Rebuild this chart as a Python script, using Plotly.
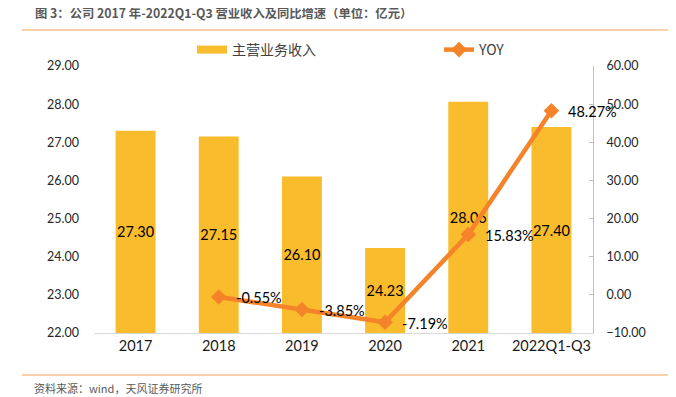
import plotly.graph_objects as go

categories = ["2017", "2018", "2019", "2020", "2021", "2022Q1-Q3"]
revenue = [27.30, 27.15, 26.10, 24.23, 28.06, 27.40]
yoy_categories = ["2018", "2019", "2020", "2021", "2022Q1-Q3"]
yoy = [-0.55, -3.85, -7.19, 15.83, 48.27]
left_ticks = [22, 23, 24, 25, 26, 27, 28, 29]
right_ticks = [-10, 0, 10, 20, 30, 40, 50, 60]

BASE = 22
BAR_COLOR = "#F9BC2C"
LINE_COLOR = "#F4832A"
FONT = "Lato, 'Noto Sans CJK SC', sans-serif"
CJK = "'Noto Sans CJK SC', sans-serif"

# plot area in page pixels (page has an 8px body margin)
PL, PR, PT, PB = 94, 593, 66, 333
PW, PH = PR - PL, PB - PT


def px(xp):
    return (xp - PL) / PW


def py(yp):
    return (PB - yp) / PH


fig = go.Figure()

fig.add_trace(go.Bar(
    x=categories,
    y=[v - BASE for v in revenue],
    base=BASE,
    width=0.48,
    marker=dict(color=BAR_COLOR, line=dict(width=0)),
    text=[f"{v:.2f}" for v in revenue],
    textposition="inside",
    insidetextanchor="middle",
    constraintext="none",
    textangle=0,
    textfont=dict(family=FONT, size=14.5, color="#000000"),
    showlegend=False,
    name="主营业务收入",
    hoverinfo="skip",
))

# legend swatch for the bars (wide flat rectangle)
fig.add_trace(go.Scatter(
    x=[categories[0]], y=[None], mode="lines",
    line=dict(color=BAR_COLOR, width=8),
    name="主营业务收入", hoverinfo="skip", legend="legend",
))

fig.add_trace(go.Scatter(
    x=yoy_categories,
    y=yoy,
    yaxis="y2",
    mode="lines+markers",
    line=dict(color=LINE_COLOR, width=4.5),
    marker=dict(symbol="diamond", size=12, color=LINE_COLOR),
    name="YOY", legend="legend2",
))

for c, v in zip(yoy_categories, yoy):
    fig.add_annotation(
        x=categories.index(c), y=v, xref="x", yref="y2",
        text=f"{v:.2f}%", showarrow=False,
        xanchor="left", yanchor="middle", xshift=15, yshift=-1,
        font=dict(family=FONT, size=14.5, color="#000000"),
    )

fig.add_annotation(
    x=px(33), y=py(13), xref="paper", yref="paper",
    text="<b>图 3：公司 2017 年-2022Q1-Q3 营业收入及同比增速（单位：亿元）</b>",
    showarrow=False, xanchor="left", yanchor="middle",
    font=dict(family=CJK, size=12.3, color="#595959"),
)
fig.add_annotation(
    x=px(32), y=py(388), xref="paper", yref="paper",
    text="资料来源：wind，天风证券研究所", showarrow=False, xanchor="left", yanchor="middle",
    font=dict(family=CJK, size=11, color="#595959"),
)

for yline in (30, 375):
    fig.add_shape(type="line", xref="paper", yref="paper",
                  x0=px(22), x1=px(684), y0=py(yline), y1=py(yline),
                  line=dict(color="#F8C08E", width=1.5))

legend_common = dict(
    orientation="h", xanchor="left", yanchor="middle",
    font=dict(family=CJK, size=14, color="#404040"),
    bgcolor="rgba(0,0,0,0)",
)

fig.update_layout(
    width=668, height=389,
    margin=dict(l=PL - 8, r=668 - (PR - 8), t=PT - 8, b=389 - (PB - 8)),
    paper_bgcolor="white", plot_bgcolor="white",
    showlegend=True,
    legend=dict(x=px(192), y=py(50), **legend_common),
    legend2=dict(x=px(439), y=py(50), **legend_common),
    xaxis=dict(
        type="category", categoryorder="array", categoryarray=categories,
        range=[-0.5, len(categories) - 0.5], autorange=False,
        showline=True, linecolor="#D9D9D9", linewidth=1,
        ticks="", tickfont=dict(family=FONT, size=14.5, color="#1a1a1a"),
        showgrid=False, zeroline=False,
    ),
    yaxis=dict(
        range=[22, 29], tickvals=left_ticks, tickformat=".2f",
        showgrid=False, zeroline=False, showline=False, ticks="",
        tickfont=dict(family=FONT, size=12.5, color="#262626"),
        ticklabelstandoff=14,
    ),
    yaxis2=dict(
        overlaying="y", side="right", range=[-10, 60], tickvals=right_ticks,
        tickformat=".2f", ticksuffix="%",
        showgrid=False, zeroline=False, showline=True, linecolor="#BFBFBF", linewidth=1,
        ticks="inside", ticklen=4, tickcolor="#BFBFBF",
        tickfont=dict(family=FONT, size=12.5, color="#262626"),
        ticklabelstandoff=10,
    ),
)

fig.write_html("out.html")
